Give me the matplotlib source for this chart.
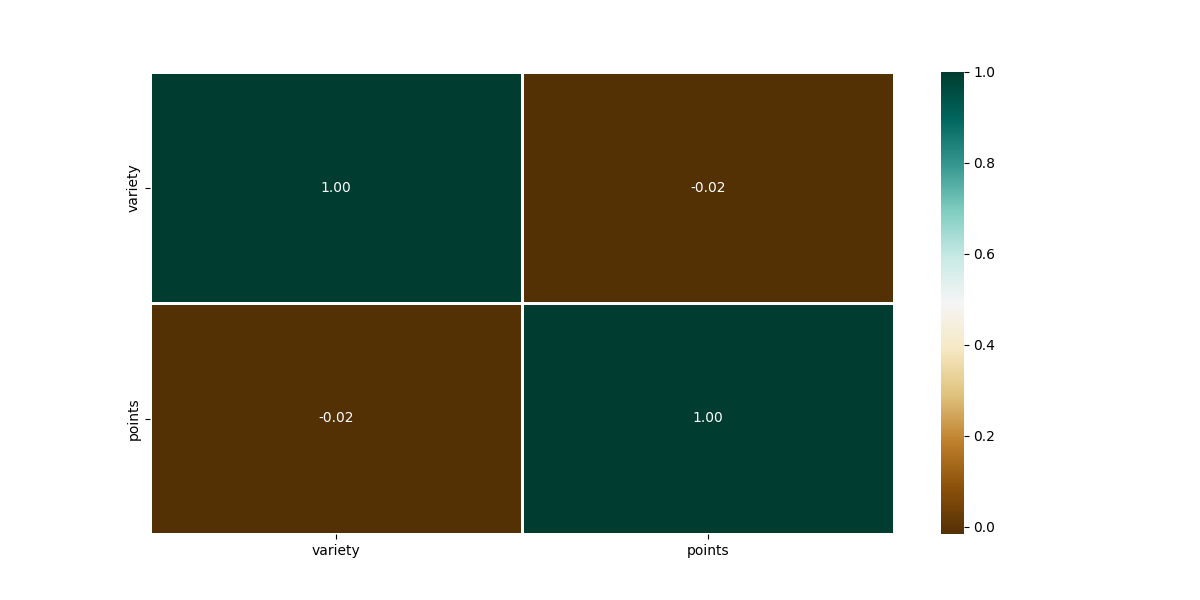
import matplotlib
matplotlib.use("Agg")
import matplotlib.pyplot as plt
import seaborn as sns
import pandas as pd

labels = ["variety", "points"]
corr_values = [[1.00, -0.016],
               [-0.016, 1.00]]

corr = pd.DataFrame(corr_values, index=labels, columns=labels)

plt.figure(figsize=(12, 6))
sns.heatmap(corr, annot=True, fmt=".2f", cmap="BrBG", linewidths=2, linecolor="white")
plt.savefig("out.png", dpi=100)
